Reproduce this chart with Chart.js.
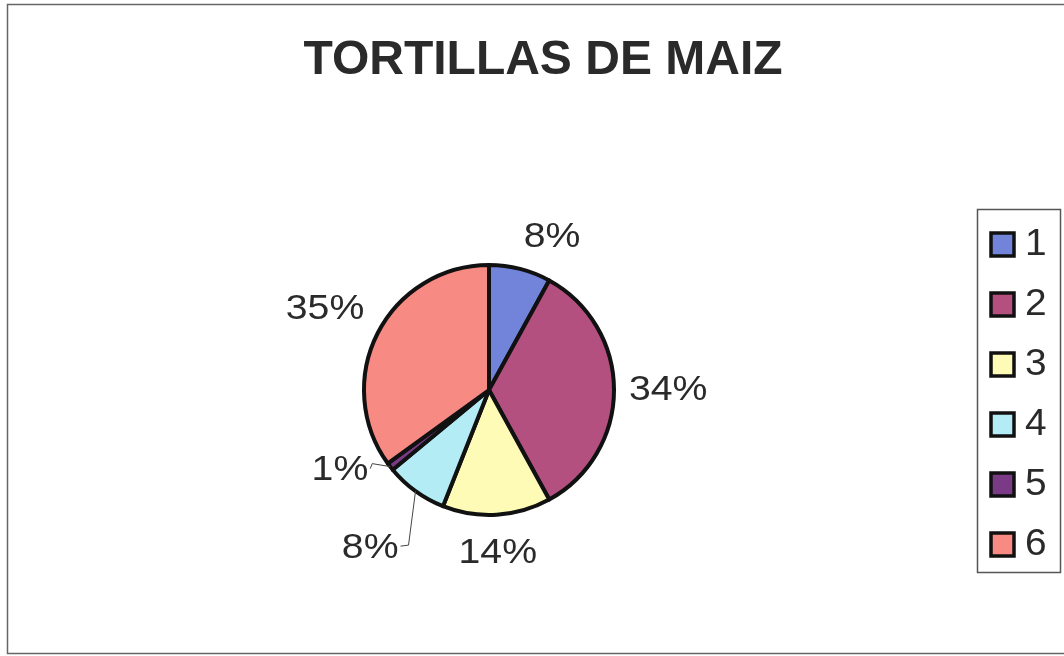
<!DOCTYPE html>
<html>
<head>
<meta charset="utf-8">
<title>Tortillas de maiz</title>
<script src="https://cdn.jsdelivr.net/npm/chart.js@4.4.1/dist/chart.umd.min.js"></script>
<style>
  html, body { margin: 0; padding: 0; background: #fff; }
  canvas { display: block; }
</style>
</head>
<body>
<canvas id="pieChart" width="1064" height="656"></canvas>
<script>
// chart data
const chartTitle = 'TORTILLAS DE MAIZ';
const categories = ['1', '2', '3', '4', '5', '6'];
const shares = [8, 34, 14, 8, 1, 35];
const sliceColors = ['#7284da', '#b4507f', '#fdfbb6', '#b4ecf5', '#7a3a85', '#f78a83'];

// small slices get a callout with a leader line: [elbow dx, elbow dy, label dx, label dy] from the arc edge
const callouts = {
    3: [-7, 54, -17, 57],
    4: [-18, -3, -22, 4]
};

const ink = '#2a2a2a';

// text stretched a little sideways around its anchor
function wideText(c, text, x, y, stretch) {
    c.save();
    c.translate(x, y);
    c.scale(stretch, 1);
    c.fillText(text, 0, 0);
    c.restore();
}

// frame, title, percentage labels and legend box
const decorPlugin = {
    id: 'decor',
    afterDraw(chart) {
        const c = chart.ctx;
        c.save();

        // outer frame
        c.strokeStyle = '#666';
        c.lineWidth = 1.5;
        c.strokeRect(7.5, 4.5, 1080, 649);

        // title
        c.fillStyle = ink;
        c.font = 'bold 48px "Liberation Sans", Arial, sans-serif';
        c.textAlign = 'center';
        c.textBaseline = 'middle';
        wideText(c, chartTitle, 543, 61, 1.0);

        // percentage labels
        const meta = chart.getDatasetMeta(0);
        const total = shares.reduce((a, b) => a + b, 0);
        c.font = '35px "Liberation Sans", Arial, sans-serif';
        meta.data.forEach((arc, i) => {
            const mid = (arc.startAngle + arc.endAngle) / 2;
            const cos = Math.cos(mid), sin = Math.sin(mid);
            const text = Math.round(shares[i] / total * 100) + '%';
            const co = callouts[i];
            if (co) {
                const ex = arc.x + cos * arc.outerRadius;
                const ey = arc.y + sin * arc.outerRadius;
                c.strokeStyle = '#444';
                c.lineWidth = 1;
                c.beginPath();
                c.moveTo(ex, ey);
                c.lineTo(ex + co[0], ey + co[1]);
                c.lineTo(ex + co[2] + 2, ey + co[3] - 2);
                c.stroke();
                c.fillStyle = ink;
                c.textAlign = 'right';
                c.textBaseline = 'middle';
                wideText(c, text, ex + co[2], ey + co[3], 1.12);
                return;
            }
            const r = arc.outerRadius + 15;
            const px = arc.x + cos * r;
            const py = arc.y + sin * r;
            c.textAlign = cos > 0.2 ? 'left' : (cos < -0.2 ? 'right' : 'center');
            c.textBaseline = sin < -0.2 ? 'bottom' : (sin > 0.2 ? 'top' : 'middle');
            c.fillStyle = ink;
            wideText(c, text, px, py + (sin > 0.2 ? 6 : 0), 1.12);
        });

        // legend
        c.strokeStyle = '#555';
        c.lineWidth = 1.5;
        c.strokeRect(977.5, 209.5, 83, 363);
        c.font = '37px "Liberation Sans", Arial, sans-serif';
        c.textAlign = 'left';
        c.textBaseline = 'middle';
        categories.forEach((name, i) => {
            const cy = 244 + i * 60;
            c.fillStyle = sliceColors[i];
            c.fillRect(991, cy - 11, 23, 23);
            c.strokeStyle = '#111';
            c.lineWidth = 3.5;
            c.strokeRect(991, cy - 11, 23, 23);
            c.fillStyle = ink;
            wideText(c, name, 1025, cy + 1, 1.05);
        });

        c.restore();
    }
};

const ctx = document.getElementById('pieChart').getContext('2d');

const pieChart = new Chart(ctx, {
    type: 'pie',
    data: {
        labels: categories,
        datasets: [{
            data: shares,
            backgroundColor: sliceColors,
            borderColor: '#111',
            borderWidth: 4,
            borderJoinStyle: 'round'
        }]
    },
    options: {
        responsive: false,
        animation: false,
        events: [],
        devicePixelRatio: 1,
        layout: {
            padding: { left: 362, right: 448, top: 263, bottom: 139 }
        },
        plugins: {
            legend: { display: false },
            title: { display: false },
            tooltip: { enabled: false }
        }
    },
    plugins: [decorPlugin]
});
</script>
</body>
</html>
